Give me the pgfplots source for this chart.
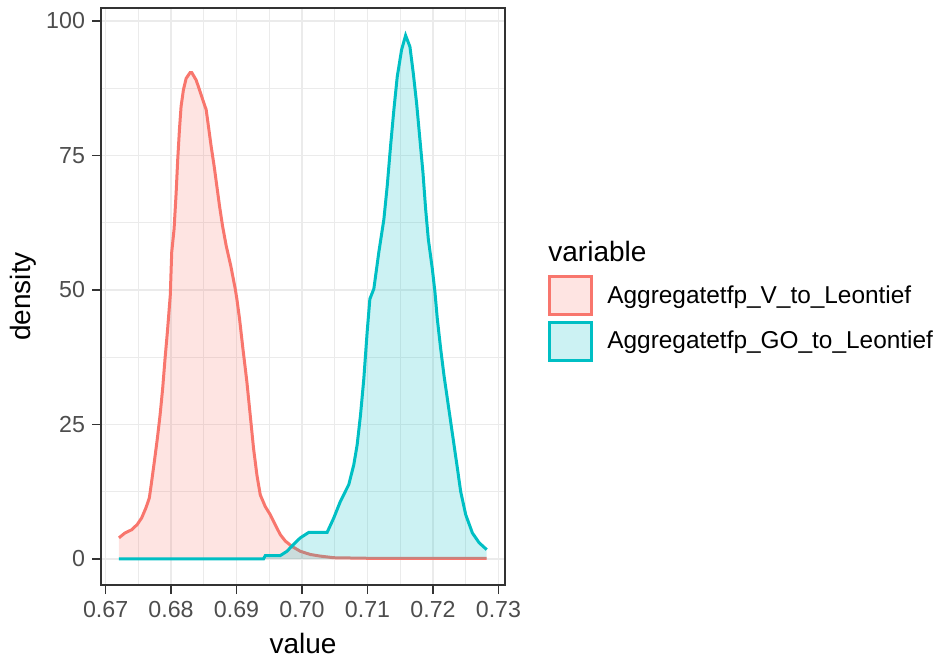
\documentclass[border=0pt]{standalone}
\usepackage{pgfplots}
\pgfplotsset{compat=1.18}
\usepackage{pgfplotstable}
\usepackage{fontspec}
\setmainfont{Liberation Sans}
\definecolor{gred}{HTML}{F8766D}
\definecolor{gcyan}{HTML}{00BFC4}
\definecolor{grey30}{HTML}{4D4D4D}
\definecolor{grey20}{HTML}{333333}
\definecolor{grey92}{HTML}{EBEBEB}

% Aggregatetfp_V_to_Leontief
\pgfplotstableread{
x y
0.67204 3.9
0.67296 4.8
0.67398 5.4
0.67485 6.4
0.67551 7.6
0.67617 9.5
0.67668 11.3
0.67704 14.4
0.67745 18.1
0.67791 22.4
0.67832 26.7
0.67872 31.7
0.67908 37.2
0.67944 42.2
0.67988 49.0
0.68010 57.0
0.68046 61.3
0.68077 67.9
0.68102 74.3
0.68128 79.8
0.68153 84.1
0.68189 87.2
0.68230 89.3
0.68291 90.4
0.68316 90.4
0.68383 89.0
0.68434 87.2
0.68485 85.3
0.68536 83.5
0.68571 80.4
0.68612 76.7
0.68658 73.0
0.68699 69.3
0.68740 65.6
0.68786 61.9
0.68842 58.2
0.68913 54.4
0.68980 50.2
0.69005 48.3
0.69046 44.6
0.69097 39.1
0.69158 32.9
0.69209 26.7
0.69260 20.5
0.69311 15.6
0.69362 11.9
0.69439 9.7
0.69515 8.2
0.69592 6.3
0.69668 4.5
0.69745 3.3
0.69847 2.3
0.69974 1.4
0.70128 0.8
0.70280 0.5
0.70485 0.2
0.71000 0.1
0.72821 0.1
}\redtab

% Aggregatetfp_GO_to_Leontief
\pgfplotstableread{
x y
0.67204 0
0.69413 0
0.69439 0.6
0.69668 0.6
0.69770 1.4
0.69872 2.7
0.69974 3.9
0.70102 4.9
0.70383 4.9
0.70485 7.6
0.70587 10.7
0.70714 13.8
0.70791 17.5
0.70842 21.2
0.70893 26.7
0.70944 33.5
0.70995 42.2
0.71036 48.3
0.71097 50.2
0.71173 57.0
0.71250 63.1
0.71301 69.3
0.71352 76.7
0.71403 83.5
0.71454 89.6
0.71520 94.6
0.71582 97.3
0.71648 95.2
0.71699 90.3
0.71750 84.7
0.71801 77.9
0.71847 71.8
0.71888 65.0
0.71929 59.4
0.71990 53.9
0.72030 49.6
0.72066 44.6
0.72117 39.1
0.72168 34.1
0.72219 29.8
0.72270 25.5
0.72321 21.2
0.72372 16.9
0.72423 12.5
0.72500 8.2
0.72602 4.8
0.72704 3.0
0.72821 1.7
}\cyantab

\begin{document}
\begin{tikzpicture}
\useasboundingbox (0,0) rectangle (468.5pt,330pt);
\begin{axis}[at={(50.5pt,37.5pt)}, anchor=south west, scale only axis,
  width=202pt, height=288.5pt,
  xmin=0.6693, xmax=0.7310, ymin=-4.87, ymax=102.4,
  xtick={0.67,0.68,0.69,0.70,0.71,0.72,0.73},
  minor xtick={0.675,0.685,0.695,0.705,0.715,0.725},
  ytick={0,25,50,75,100}, minor ytick={12.5,37.5,62.5,87.5},
  scaled x ticks=false, grid=both,
  major grid style={grey92, line width=0.8pt},
  minor grid style={grey92, line width=0.45pt},
  axis line style={grey20, line width=0.8pt},
  tick align=outside, major tick length=4.5pt, minor tick length=0pt,
  tick style={grey20, line width=0.8pt},
  xtick pos=lower, ytick pos=left,
  /pgf/number format/assume math mode=true,
  ticklabel style={font=\fontsize{11.6}{13}\selectfont, text=grey30},
  xticklabel style={/pgf/number format/fixed, /pgf/number format/fixed zerofill, /pgf/number format/precision=2},
  xlabel={value}, ylabel={density},
  label style={font=\fontsize{14}{16}\selectfont},
  xlabel style={at={(axis description cs:0.5,-0.1015)}, anchor=center},
  ylabel style={at={(axis description cs:-0.192,0.5)}, anchor=center},
  legend style={at={(axis description cs:1.1054,0.538)}, anchor=north west,
    draw=none, fill=none, inner sep=0pt, row sep=2.25pt,
    font=\fontsize{12.2}{14}\selectfont, nodes={inner sep=1pt}},
  legend cell align=left,
  legend image code/.code={\draw[#1, line width=1.7pt] (0pt,-9.5pt) rectangle (21pt,9.5pt);},
]
\addplot[draw=none, fill=gred, fill opacity=0.2, forget plot] table {\redtab} \closedcycle;
\addplot[gred, line width=1.5pt, forget plot] table {\redtab};
\addplot[draw=none, fill=gcyan, fill opacity=0.2, forget plot] table {\cyantab} \closedcycle;
\addplot[gcyan, line width=1.5pt, forget plot] table {\cyantab};
\addlegendimage{draw=gred, fill=gred!20}
\addlegendentry{\hspace{6pt}Aggregatetfp\_V\_to\_Leontief}
\addlegendimage{draw=gcyan, fill=gcyan!20}
\addlegendentry{\hspace{6pt}Aggregatetfp\_GO\_to\_Leontief}
\end{axis}
\node[anchor=west, inner sep=0pt, font=\fontsize{14}{16}\selectfont] at (274pt,204.5pt) {variable};
\end{tikzpicture}
\end{document}
